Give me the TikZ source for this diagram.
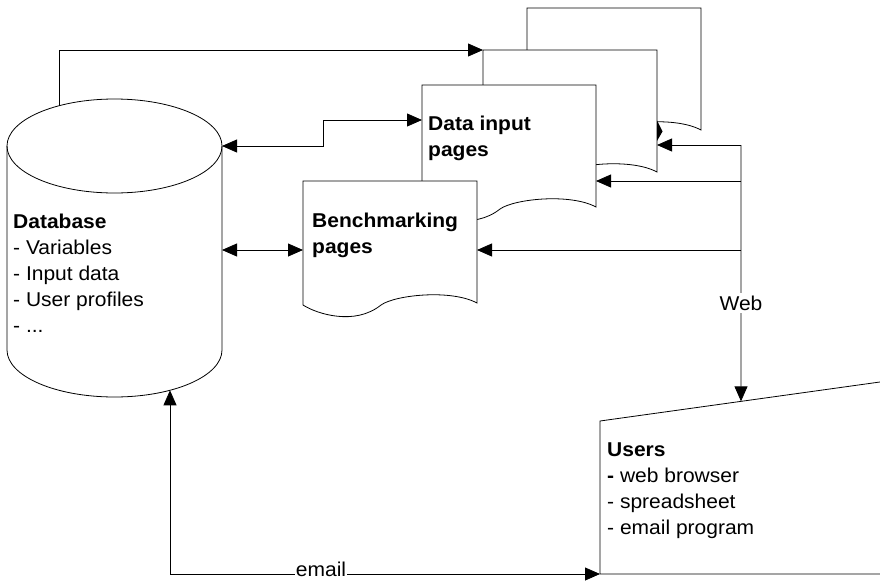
\documentclass[tikz,border=0pt]{standalone}
\usepackage{fontspec}
\setmainfont[FakeStretch=1.05]{Liberation Sans}
\usetikzlibrary{arrows.meta,calc}
\tikzset{
  lw/.style={line width=0.8pt},
  docbox/.style={draw=none, minimum width=174pt, minimum height=124pt, anchor=north west, inner sep=0pt, outer sep=0pt},
  arr/.style={line width=0.8pt, -{Triangle[length=15pt,width=13pt]}},
  darr/.style={line width=0.8pt, {Triangle[length=15pt,width=13pt]}-{Triangle[length=15pt,width=13pt]}},
  txt/.style={align=left, anchor=north west, inner sep=0pt, font=\fontsize{20}{26}\selectfont},
  lbl/.style={fill=white, inner xsep=1pt, inner ysep=3pt, font=\fontsize{20}{26}\selectfont, anchor=base},
}
\newcommand\docoutline[1]{%
  \draw[lw, fill=white, shift={(#1.north west)}] (0,0) -- (174,0) -- (174,122)
    .. controls (148,108) and (92,114) .. (78,124)
    .. controls (52,145) and (14,133) .. (0,124) -- cycle;}
\begin{document}
\begin{tikzpicture}[x=1pt,y=-1pt]
\useasboundingbox (0,0) rectangle (880,581);
% database cylinder
\node[draw=none, minimum width=215pt, minimum height=298pt, anchor=north west, inner sep=0pt] (db) at (7,99) {};
\draw[lw] (7,146) -- (7,350) .. controls (7,376) and (55.1,397) .. (114.5,397)
  .. controls (173.9,397) and (222,376) .. (222,350) -- (222,146);
\draw[lw] (114.5,146) ellipse [x radius=107.5, y radius=47];
\node[txt] (dbtext) at (13,213.5) {\textbf{Database}\\- Variables\\- Input data\\- User profiles\\- ...};
% documents, back to front
\node[docbox] (docback) at (527,8) {};
\node[docbox] (docmid) at (483,50) {};
\node[docbox] (docdata) at (422,85) {};
\node[docbox] (docbench) at (303,181) {};
\docoutline{docback}
\docoutline{docmid}
\docoutline{docdata}
\docoutline{docbench}
\node[txt, font=\fontsize{20}{26}\selectfont\bfseries] (datatext) at (428,115.5) {Data input\\pages};
\node[txt, font=\fontsize{20}{26}\selectfont\bfseries] (benchtext) at (312,212.5) {Benchmarking\\pages};
% users
\coordinate (uNW) at (600,421);
\coordinate (uNE) at (900,379.2);
\coordinate (uSW) at (600,574);
\coordinate (uSE) at (900,574);
\node[draw=none, anchor=north west, minimum width=280pt, minimum height=153pt, inner sep=0pt] (users) at (600,421) {};
\draw[lw] (uNE) -- (uNW) -- (uSW) -- (uSE);
\node[txt] (userstext) at (607,442.5) {\textbf{Users}\\\textbf{-} web browser\\- spreadsheet\\- email program};
% connection points
\coordinate (dbtop) at (59,105.7);
\coordinate (dbE1) at (222,146);
\coordinate (jog) at (323,146);
\coordinate (dataW) at ($(docdata.north west)+(0,35)$);
\coordinate (dbE2) at (222,250);
\coordinate (benchW) at ($(docbench.north west)+(0,69)$);
\coordinate (dbB) at (170,390.3);
\coordinate (webtop) at (741,145);
\coordinate (web2) at (741,181);
\coordinate (web3) at (741,250);
\coordinate (midE) at ($(docmid.north east)+(0,95)$);
\coordinate (dataE) at ($(docdata.north east)+(0,96)$);
\coordinate (benchE) at ($(docbench.north east)+(0,69)$);
\coordinate (usersTop) at ($(uNW)!0.47!(uNE)$);
% connectors
\draw[arr] (dbtop) |- (docmid.north west);
\draw[darr] (dbE1) -- (jog) |- (dataW);
\draw[darr] (dbE2) -- (benchW);
\draw[arr] (webtop) -- (usersTop);
\draw[arr] (webtop) -- (midE);
\draw[arr] (web2) -- (dataE);
\draw[arr] (web3) -- (benchE);
\draw[darr] (dbB) |- (uSW);
\fill (657,120.5) -- (662.5,131.5) -- (657,141) -- cycle;
% labels
\node[lbl] (weblbl) at (741,310) {Web};
\node[lbl] (emaillbl) at (321,576) {email};
\end{tikzpicture}
\end{document}
